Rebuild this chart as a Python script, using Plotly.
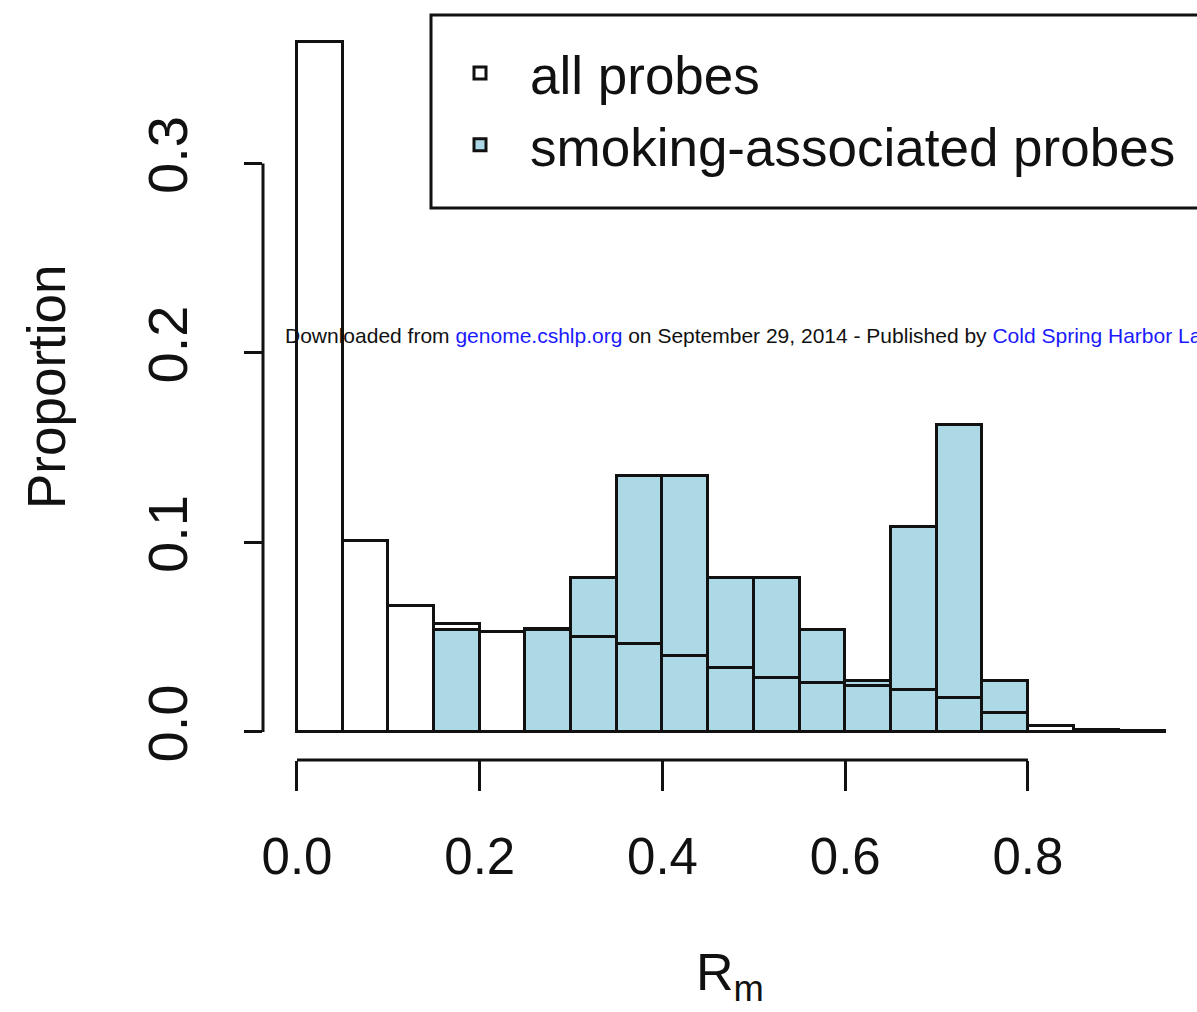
import plotly.graph_objects as go

# Histogram bins (width 0.05) and proportions
bin_left = [0.00, 0.05, 0.10, 0.15, 0.20, 0.25, 0.30, 0.35, 0.40, 0.45,
            0.50, 0.55, 0.60, 0.65, 0.70, 0.75, 0.80, 0.85, 0.90]
all_probes = [0.364, 0.101, 0.0665, 0.057, 0.053, 0.0545, 0.050, 0.0465, 0.040, 0.034,
              0.0285, 0.026, 0.024, 0.022, 0.018, 0.010, 0.003, 0.001, 0.0003]
smoking = [0.0, 0.0, 0.0, 0.054, 0.0, 0.054, 0.081, 0.135, 0.135, 0.081,
           0.081, 0.054, 0.027, 0.108, 0.162, 0.027, 0.0, 0.0, 0.0]
bin_width = 0.05

x_ticks = [0.0, 0.2, 0.4, 0.6, 0.8]
x_ticktext = ["0.0", "0.2", "0.4", "0.6", "0.8"]
y_ticks = [0.0, 0.1, 0.2, 0.3]
y_ticktext = ["0.0", "0.1", "0.2", "0.3"]

FONT = "Liberation Sans, Arial, sans-serif"
LINE = "#111111"

fig = go.Figure()
fig.add_trace(go.Bar(
    x=bin_left, y=smoking, width=bin_width, offset=0,
    marker=dict(color="lightblue", line=dict(color=LINE, width=3)),
    name="smoking-associated probes", legendrank=2,
))
fig.add_trace(go.Bar(
    x=bin_left, y=all_probes, width=bin_width, offset=0,
    marker=dict(color="rgba(255,255,255,0)", line=dict(color=LINE, width=3)),
    name="all probes", legendrank=1,
))

fig.update_layout(
    width=1197, height=1012,
    margin=dict(l=263, r=0, t=20, b=252),
    paper_bgcolor="white", plot_bgcolor="white",
    barmode="overlay", bargap=0,
    font=dict(family=FONT, color="#111111", size=50),
    showlegend=True,
    legend=dict(
        x=(430 - 263) / 934, y=(760 - 32) / 740, xanchor="left", yanchor="top",
        bgcolor="rgba(0,0,0,0)", borderwidth=0,
        font=dict(size=53, family=FONT), itemwidth=90,
        tracegroupgap=0,
    ),
    xaxis=dict(
        range=[-0.0372, 0.985], showgrid=False, zeroline=False, showline=False,
        tickmode="array", tickvals=x_ticks, ticktext=x_ticktext,
        ticks="outside", ticklen=30, tickwidth=3, tickcolor=LINE,
        tickfont=dict(size=51, family=FONT), ticklabelstandoff=22,
    ),
    yaxis=dict(
        range=[-0.0148, 0.3757], showgrid=False, zeroline=False, showline=False,
        tickmode="array", tickvals=y_ticks, ticktext=y_ticktext,
        ticks="outside", ticklen=18, tickwidth=3, tickcolor=LINE,
        tickangle=-90, tickfont=dict(size=56, family=FONT), ticklabelstandoff=35,
    ),
    shapes=[
        dict(type="line", xref="x", yref="paper", x0=0, x1=0.8, y0=0, y1=0,
             line=dict(color=LINE, width=3)),
        dict(type="line", xref="paper", yref="y", x0=0, x1=0, y0=0, y1=0.3,
             line=dict(color=LINE, width=3)),
        dict(type="rect", xref="paper", yref="paper",
             x0=(431 - 263) / 934, x1=1.01, y0=(760 - 208) / 740, y1=(760 - 15) / 740,
             line=dict(color=LINE, width=3), fillcolor="rgba(0,0,0,0)"),
    ],
    annotations=[
        dict(xref="paper", yref="paper", x=(283 - 263) / 934, y=(760 - 335) / 740,
             xanchor="left", yanchor="middle", showarrow=False,
             text=("Downloaded from <span style='color:#1a1aff'>genome.cshlp.org</span> "
                   "on September 29, 2014 - Published by "
                   "<span style='color:#1a1aff'>Cold Spring Harbor Laboratory Press</span>"),
             font=dict(size=21, family=FONT, color="#111111")),
        dict(xref="paper", yref="paper", x=-(263 - 46) / 934, y=(760 - 387) / 740,
             xanchor="center", yanchor="middle", showarrow=False, textangle=-90,
             text="Proportion", font=dict(size=53, family=FONT)),
        dict(xref="paper", yref="paper", x=(730 - 263) / 934, y=(760 - 976) / 740,
             xanchor="center", yanchor="middle", showarrow=False,
             text="R<sub>m</sub>", font=dict(size=52, family=FONT)),
    ],
)

fig.write_html("out.html")
